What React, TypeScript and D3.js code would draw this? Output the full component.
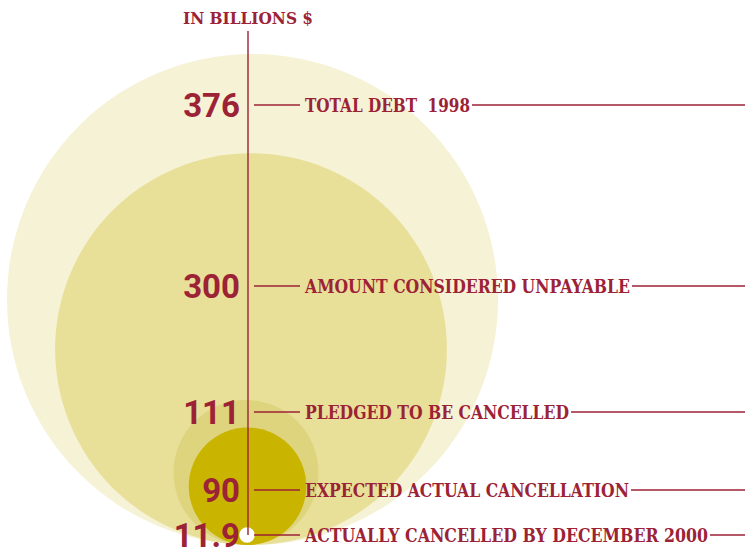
import React, { useEffect, useRef } from "react";
import * as d3 from "d3";

const values = [376, 300, 111, 90, 11.9];
const valueLabels = ["376", "300", "111", "90", "11.9"];
const descriptions = [
  "TOTAL DEBT\u00a0\u00a01998",
  "AMOUNT CONSIDERED UNPAYABLE",
  "PLEDGED TO BE CANCELLED",
  "EXPECTED ACTUAL CANCELLATION",
  "ACTUALLY CANCELLED BY DECEMBER 2000",
];
const unitTitle = "IN BILLIONS $";

// layout (not data)
const labelY = [105, 286, 412, 490, 535];
const centerX = [252.5, 251, 246, 247.5, 247];
const fills = ["#f6f2d5", "#e8df98", "#ded47d", "#c9b400", "#ffffff"];

const W = 745;
const H = 548;
const BOTTOM = 545;
const AXIS_X = 248;
const RED = "#9c2236";
const SLAB = "DejaVu Serif";

export default function App() {
  const ref = useRef<SVGSVGElement | null>(null);
  useEffect(() => {
    const svg = d3.select(ref.current);
    svg.selectAll("*").remove();
    const r = d3.scaleLinear().domain([0, 376]).range([0, 245.5]);

    svg
      .append("g")
      .selectAll("circle")
      .data(values)
      .join("circle")
      .attr("cx", (d, i) => centerX[i])
      .attr("cy", (d, i) => (i === 4 ? labelY[4] : BOTTOM - r(d)))
      .attr("r", (d) => r(d))
      .attr("fill", (d, i) => fills[i]);

    svg
      .append("line")
      .attr("x1", AXIS_X)
      .attr("x2", AXIS_X)
      .attr("y1", 31)
      .attr("y2", labelY[4])
      .attr("stroke", RED)
      .attr("stroke-width", 1.4);

    const fit = (t: any, target: number) => {
      t.attr("textLength", target).attr("lengthAdjust", "spacingAndGlyphs");
    };

    const title = svg
      .append("text")
      .attr("x", 183)
      .attr("y", 24)
      .style("font-family", SLAB)
      .style("font-weight", "bold")
      .style("font-size", "17.5px")
      .attr("fill", RED)
      .text(unitTitle);
    fit(title, 130);

    const targets = [165, 325, 264, 324, 403];

    const g = svg.append("g");
    values.forEach((v, i) => {
      const y = labelY[i];
      g.append("text")
        .attr("x", 240)
        .attr("y", y + 12)
        .attr("text-anchor", "end")
        .style("font-family", "Roboto, sans-serif")
        .style("font-weight", "bold")
        .style("font-size", "33px")
        .attr("fill", RED)
        .text(valueLabels[i]);
      g.append("line")
        .attr("x1", 254)
        .attr("x2", 300)
        .attr("y1", y)
        .attr("y2", y)
        .attr("stroke", RED)
        .attr("stroke-width", 1.3);
      const t = g
        .append("text")
        .attr("x", 305)
        .attr("y", y + 7)
        .style("font-family", SLAB)
        .style("font-weight", "bold")
        .style("font-size", "18.5px")
        .attr("fill", RED)
        .text(descriptions[i]);
      fit(t, targets[i]);
      g.append("line")
        .attr("x1", 305 + targets[i] + 2)
        .attr("x2", W)
        .attr("y1", y)
        .attr("y2", y)
        .attr("stroke", RED)
        .attr("stroke-width", 1.3);
    });
  }, []);
  return (
    <svg
      ref={ref}
      width={W}
      height={H}
      style={{ position: "absolute", left: 0, top: 0, display: "block" }}
    />
  );
}
